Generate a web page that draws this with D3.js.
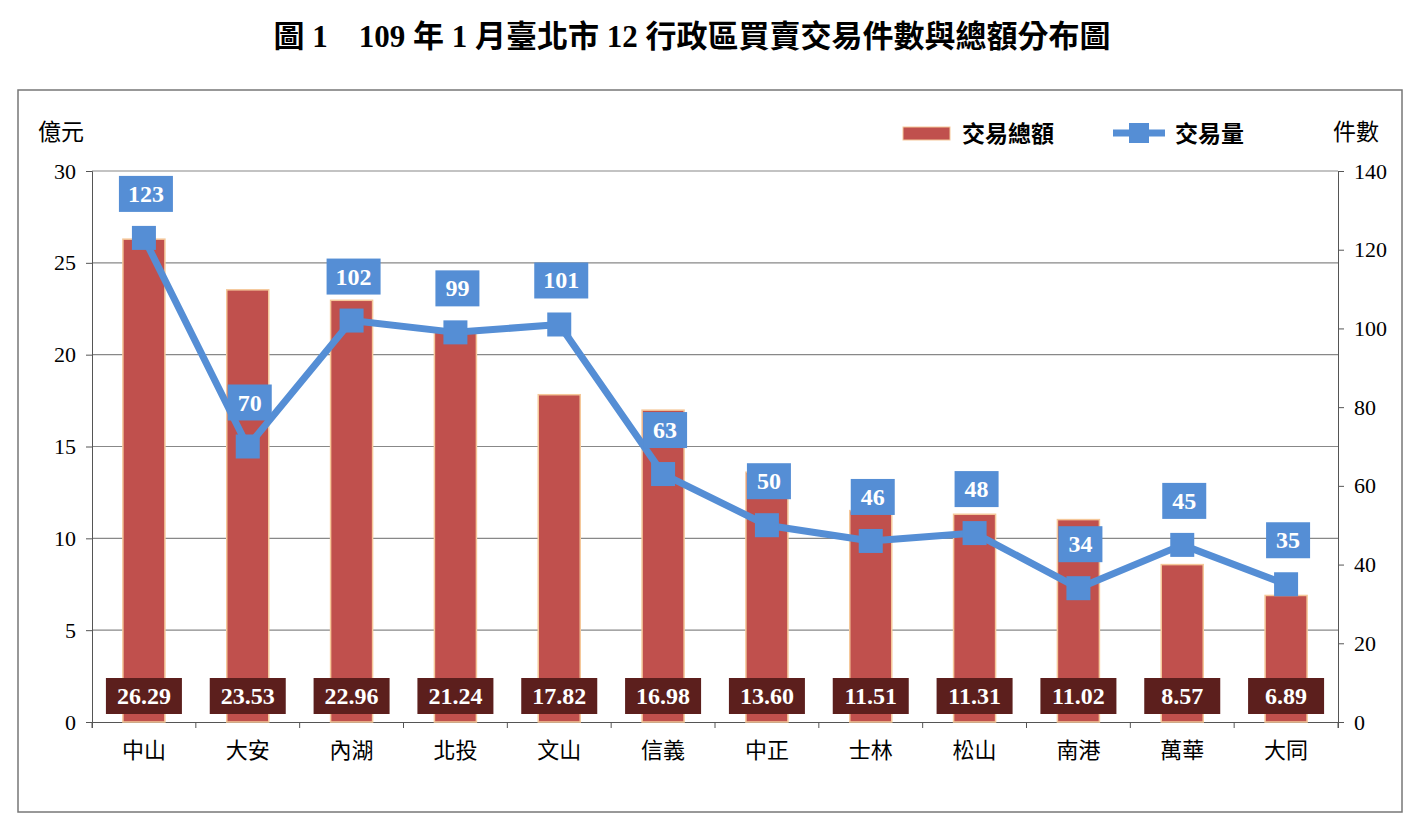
<!DOCTYPE html>
<html><head><meta charset="utf-8">
<script src="https://cdn.jsdelivr.net/npm/d3@7"></script>
<style>body{margin:0;background:#fff}</style></head>
<body><svg id="c" width="1420" height="830"></svg>
<script>
const categories=["中山","大安","內湖","北投","文山","信義","中正","士林","松山","南港","萬華","大同"];
const amounts=[26.29,23.53,22.96,21.24,17.82,16.98,13.60,11.51,11.31,11.02,8.57,6.89];
const counts=[123,70,102,99,101,63,50,46,48,34,45,35];
const leftTicks=[0,5,10,15,20,25,30];
const rightTicks=[0,20,40,60,80,100,120,140];
const title="圖 1　109 年 1 月臺北市 12 行政區買賣交易件數與總額分布圖";

const svg=d3.select("#c");
const serif="'Liberation Serif','Times New Roman',serif";
const cjk="'Liberation Serif','Noto Sans CJK TC',serif";
const L=92,R=1338,T=171,B=722;
const x=d3.scaleBand().domain(categories).range([L,R]);
const yL=d3.scaleLinear().domain([0,30]).range([B,T]);
const yR=d3.scaleLinear().domain([0,140]).range([B,T]);

svg.append("text").attr("x",692).attr("y",47).attr("text-anchor","middle")
 .attr("font-family",cjk).attr("font-weight","bold").attr("font-size",31).attr("xml:space","preserve").text(title);
svg.append("rect").attr("x",18).attr("y",90).attr("width",1384).attr("height",722).attr("fill","none").attr("stroke","#777").attr("stroke-width",1.5);

// grid
svg.append("g").selectAll("line").data(leftTicks.slice(1)).join("line")
 .attr("x1",L).attr("x2",R).attr("y1",d=>yL(d)).attr("y2",d=>yL(d)).attr("stroke","#888").attr("stroke-width",1.2);

// axes
const ax=svg.append("g").attr("transform",`translate(${L},0)`).call(d3.axisLeft(yL).tickValues(leftTicks).tickSize(6).tickPadding(10));
const axr=svg.append("g").attr("transform",`translate(${R},0)`).call(d3.axisRight(yR).tickValues(rightTicks).tickSize(6).tickPadding(10));
const axb=svg.append("g").attr("transform",`translate(0,${B})`).call(d3.axisBottom(x).tickSize(6).tickPadding(14));
[ax,axr,axb].forEach(a=>{a.selectAll("path,line").attr("stroke","#555");a.selectAll("text").attr("font-family",cjk).attr("font-size",22).attr("fill","#000");});
axb.selectAll(".tick line").remove();
axb.append("g").selectAll("line").data(d3.range(13)).join("line").attr("x1",d=>L+d*x.step()).attr("x2",d=>L+d*x.step()).attr("y1",0).attr("y2",6).attr("stroke","#555");

// bars
const bw=42;
svg.append("g").selectAll("rect").data(amounts).join("rect")
 .attr("x",(d,i)=>x(categories[i])+x.bandwidth()/2-bw/2).attr("width",bw)
 .attr("y",d=>yL(d)).attr("height",d=>B-yL(d)).attr("fill","#c0504d").attr("stroke","#f5c89a").attr("stroke-width",1.5);

// bar labels
const bl=svg.append("g").selectAll("g").data(amounts).join("g")
 .attr("transform",(d,i)=>`translate(${x(categories[i])+x.bandwidth()/2},696)`);
bl.append("rect").attr("x",-38).attr("y",-18).attr("width",76).attr("height",36).attr("fill","#5c1f1d");
bl.append("text").attr("text-anchor","middle").attr("dy",8).attr("fill","#fff").attr("font-family",serif).attr("font-weight","bold").attr("font-size",24).text(d=>d.toFixed(2));

// line
const cx=(i)=>x(categories[i])+x.bandwidth()/2;
const blue="#558ed5";
svg.append("path").datum(counts).attr("fill","none").attr("stroke",blue).attr("stroke-width",7).attr("stroke-linejoin","round")
 .attr("d",d3.line().x((d,i)=>cx(i)).y(d=>yR(d)));
svg.append("g").selectAll("rect").data(counts).join("rect")
 .attr("x",(d,i)=>cx(i)-12).attr("y",d=>yR(d)-12).attr("width",24).attr("height",24).attr("fill",blue);

const pl=svg.append("g").selectAll("g").data(counts).join("g")
 .attr("transform",(d,i)=>`translate(${cx(i)+2},${yR(d)-44})`);
pl.append("rect").attr("x",d=>d>=100?-27:-22).attr("y",-18).attr("width",d=>d>=100?54:44).attr("height",36).attr("fill",blue);
pl.append("text").attr("text-anchor","middle").attr("dy",8).attr("fill","#fff").attr("font-family",serif).attr("font-weight","bold").attr("font-size",24).text(d=>d);

// unit labels
svg.append("text").attr("x",38).attr("y",140).attr("font-family",cjk).attr("font-size",23).text("億元");
svg.append("text").attr("x",1333).attr("y",140).attr("font-family",cjk).attr("font-size",23).text("件數");

// legend
svg.append("rect").attr("x",903).attr("y",127).attr("width",47).attr("height",13).attr("fill","#c0504d").attr("stroke","#f5c89a");
svg.append("text").attr("x",962).attr("y",142).attr("font-family",cjk).attr("font-weight","bold").attr("font-size",23).text("交易總額");
svg.append("line").attr("x1",1113).attr("x2",1165).attr("y1",133).attr("y2",133).attr("stroke",blue).attr("stroke-width",7);
svg.append("rect").attr("x",1129).attr("y",123).attr("width",20).attr("height",20).attr("fill",blue);
svg.append("text").attr("x",1175).attr("y",142).attr("font-family",cjk).attr("font-weight","bold").attr("font-size",23).text("交易量");
</script></body></html>
